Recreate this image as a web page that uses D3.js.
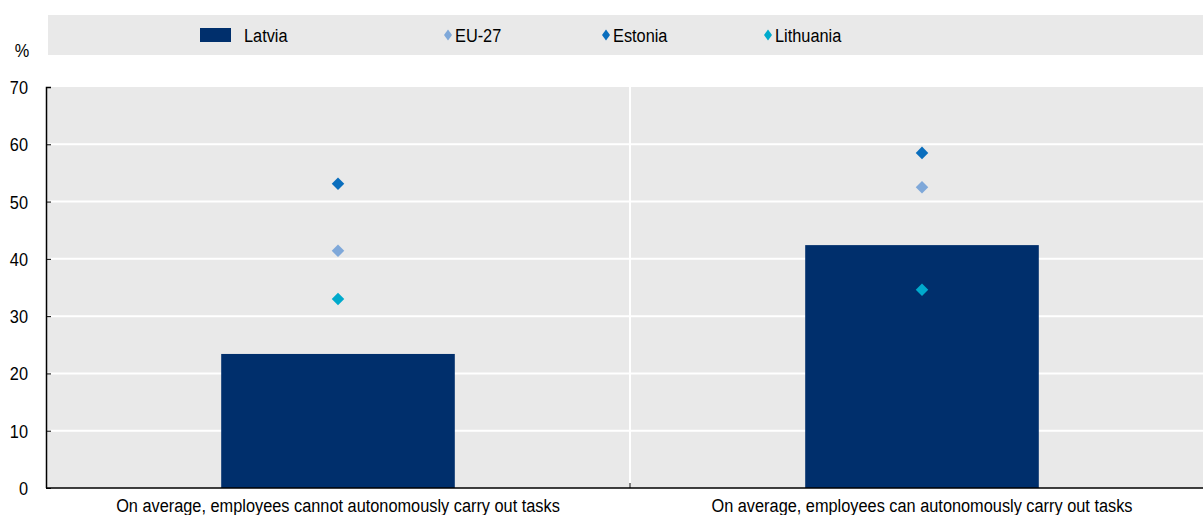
<!DOCTYPE html>
<html>
<head>
<meta charset="utf-8">
<script src="https://cdnjs.cloudflare.com/ajax/libs/d3/7.8.5/d3.min.js"></script>
<style>
  body { margin: 0; background: #fff; }
  svg text { font-family: "Liberation Sans", Arial, sans-serif; font-size: 19px; fill: #000; }
</style>
</head>
<body>
<script>
// data
var categories = ["On average, employees cannot autonomously carry out tasks",
                  "On average, employees can autonomously carry out tasks"];
var latvia = [23.4, 42.4];
var eu27 = [41.4, 52.5];
var estonia = [53.1, 58.5];
var lithuania = [33.0, 34.6];
var yTicks = [0, 10, 20, 30, 40, 50, 60, 70];

var seriesNames = ["Latvia", "EU-27", "Estonia", "Lithuania"];
var seriesColors = ["#002f6c", "#7fa8d9", "#0a6ebd", "#00aacc"];

var W = 1203, H = 515;
var margin = {top: 87, left: 46, bottom: 27};
var plotW = 1168, plotH = H - margin.top - margin.bottom;
var narrow = 0.86; // squeeze text to look like a narrow face

var svg = d3.select("body").append("svg")
  .attr("width", W).attr("height", H);

// place a narrow text at x,y
function ntext(sel, tx, ty, str, anchor) {
  return sel.append("text")
    .attr("transform", "translate(" + tx + "," + ty + ") scale(" + narrow + ",1)")
    .attr("text-anchor", anchor || "start")
    .text(str);
}

var x = d3.scaleBand().domain(categories).range([0, plotW]);
var y = d3.scaleLinear().domain([0, 70]).range([plotH, 0]);

var g = svg.append("g").attr("transform", "translate(" + margin.left + "," + margin.top + ")");

// plot background
g.append("rect").attr("x", 0).attr("y", 0)
  .attr("width", plotW).attr("height", plotH)
  .attr("fill", "#e9e9e9");

// grid lines
g.selectAll(".grid").data(yTicks.filter(d => d > 0 && d < 70)).enter()
  .append("line")
  .attr("x1", 0).attr("x2", plotW)
  .attr("y1", d => y(d)).attr("y2", d => y(d))
  .attr("stroke", "#fff").attr("stroke-width", 2);

// category separator
g.append("line")
  .attr("x1", x.step()).attr("x2", x.step())
  .attr("y1", 0).attr("y2", plotH)
  .attr("stroke", "#fff").attr("stroke-width", 2);

// bars
var barW = x.bandwidth() * 0.4;
g.selectAll(".bar").data(latvia).enter()
  .append("rect")
  .attr("x", (d, i) => x(categories[i]) + x.bandwidth() / 2 - barW / 2)
  .attr("y", d => y(d))
  .attr("width", barW)
  .attr("height", d => plotH - y(d))
  .attr("fill", seriesColors[0]);

// diamonds
var diamond = d3.symbol().type(d3.symbolDiamond2).size(100);
[eu27, estonia, lithuania].forEach(function(vals, k) {
  g.selectAll(".m" + k).data(vals).enter()
    .append("path")
    .attr("d", diamond)
    .attr("transform", (d, i) => "translate(" + (x(categories[i]) + x.bandwidth() / 2) + "," + y(d) + ")")
    .attr("fill", seriesColors[k + 1]);
});

// y axis
var yAxis = g.append("g").call(d3.axisLeft(y).tickValues(yTicks).tickSize(-5).tickFormat(""));
yAxis.select(".domain").attr("stroke", "#000").attr("stroke-width", 1.5)
  .attr("d", "M5,0.5H0.5V" + plotH);
yAxis.selectAll(".tick line").attr("stroke", "#000");
yTicks.forEach(function(t) {
  ntext(g, -18, y(t) + 7, t, "end");
});

// x axis
g.append("line").attr("x1", 0).attr("x2", plotW)
  .attr("y1", plotH).attr("y2", plotH)
  .attr("stroke", "#000").attr("stroke-width", 1.5);
g.append("line").attr("x1", x.step()).attr("x2", x.step())
  .attr("y1", plotH).attr("y2", plotH - 5)
  .attr("stroke", "#000");
categories.forEach(function(c) {
  ntext(g, x(c) + x.bandwidth() / 2, plotH + 24, c, "middle");
});

// unit label
ntext(svg, 22, 57, "%", "middle");

// legend
var legend = svg.append("g");
legend.append("rect").attr("x", 48).attr("y", 15)
  .attr("width", W - 48).attr("height", 40).attr("fill", "#e9e9e9");
var legX = [200, 444, 602, 764];
seriesNames.forEach(function(name, i) {
  var lg = legend.append("g").attr("transform", "translate(" + legX[i] + ",35)");
  if (i === 0) {
    lg.append("rect").attr("x", 0).attr("y", -7).attr("width", 31).attr("height", 14)
      .attr("fill", seriesColors[0]);
    ntext(lg, 44, 7, name);
  } else {
    lg.append("path").attr("d", "M4,-5.5L8,0L4,5.5L0,0Z").attr("fill", seriesColors[i]);
    ntext(lg, 11, 7, name);
  }
});
</script>
</body>
</html>
